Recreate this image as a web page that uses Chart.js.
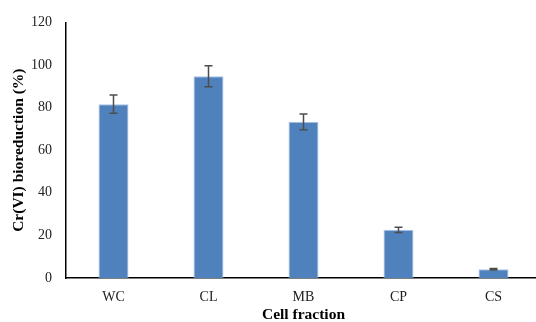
<!DOCTYPE html>
<html><head><meta charset="utf-8">
<script src="https://cdn.jsdelivr.net/npm/chart.js@4"></script>
<style>html,body{margin:0;padding:0;overflow:hidden;background:#fff}#wrap{width:545px;height:322px}</style>
</head><body><div id="wrap"><canvas id="c" width="545" height="322"></canvas></div>
<script>
const categories = ["WC", "CL", "MB", "CP", "CS"];
const values = [81.6, 94.7, 73.3, 22.6, 4.1];
const errors = [4.3, 4.9, 3.7, 1.2, 0.4];
const yTicks = [0, 20, 40, 60, 80, 100, 120];

const errorBars = {
  id: 'errorBars',
  afterDatasetsDraw(chart) {
    const ctx = chart.ctx, x = chart.scales.x, y = chart.scales.y;
    ctx.save();
    ctx.strokeStyle = '#4d4d4d';
    ctx.lineWidth = 1.5;
    values.forEach((v, i) => {
      const cx = x.getPixelForValue(i);
      const t = y.getPixelForValue(v + errors[i]);
      const b = y.getPixelForValue(v - errors[i]);
      ctx.beginPath();
      ctx.moveTo(cx, t); ctx.lineTo(cx, b);
      ctx.moveTo(cx - 4, t); ctx.lineTo(cx + 4, t);
      ctx.moveTo(cx - 4, b); ctx.lineTo(cx + 4, b);
      ctx.stroke();
    });
    ctx.restore();
  }
};

new Chart(document.getElementById('c'), {
  type: 'bar',
  data: {
    labels: categories,
    datasets: [{
      data: values,
      backgroundColor: '#4f81bd',
      borderColor: '#a9c5e8',
      borderWidth: 1,
      barPercentage: 0.316,
      categoryPercentage: 1
    }]
  },
  options: {
    responsive: false,
    animation: false,
    layout: { padding: { top: 22, right: 4, left: 0, bottom: 0 } },
    plugins: { legend: { display: false }, tooltip: { enabled: false } },
    scales: {
      x: {
        grid: { display: false, drawTicks: false },
        border: { color: '#000', width: 1.5 },
        ticks: { color: '#222', padding: 11, font: { family: 'Liberation Serif', size: 14 } },
        title: { display: true, text: 'Cell fraction', color: '#000', padding: { top: 0, bottom: 0 },
                 font: { family: 'Liberation Serif', size: 15.5, weight: 'bold', lineHeight: 0.95 } },
        afterFit(s) { s.height = 44; }
      },
      y: {
        min: 0, max: 120,
        afterBuildTicks(s) { s.ticks = yTicks.map(v => ({ value: v })); },
        grid: { display: false, drawTicks: false },
        border: { color: '#000', width: 1.5 },
        ticks: { color: '#222', padding: 14, font: { family: 'Liberation Serif', size: 14 } },
        title: { display: true, text: 'Cr(VI) bioreduction (%)', color: '#000', padding: { top: 10, bottom: 0 },
                 font: { family: 'Liberation Serif', size: 15.5, weight: 'bold', lineHeight: 1.2 } },
        afterFit(s) { s.width = 66; }
      }
    }
  },
  plugins: [errorBars]
});
</script></body></html>
